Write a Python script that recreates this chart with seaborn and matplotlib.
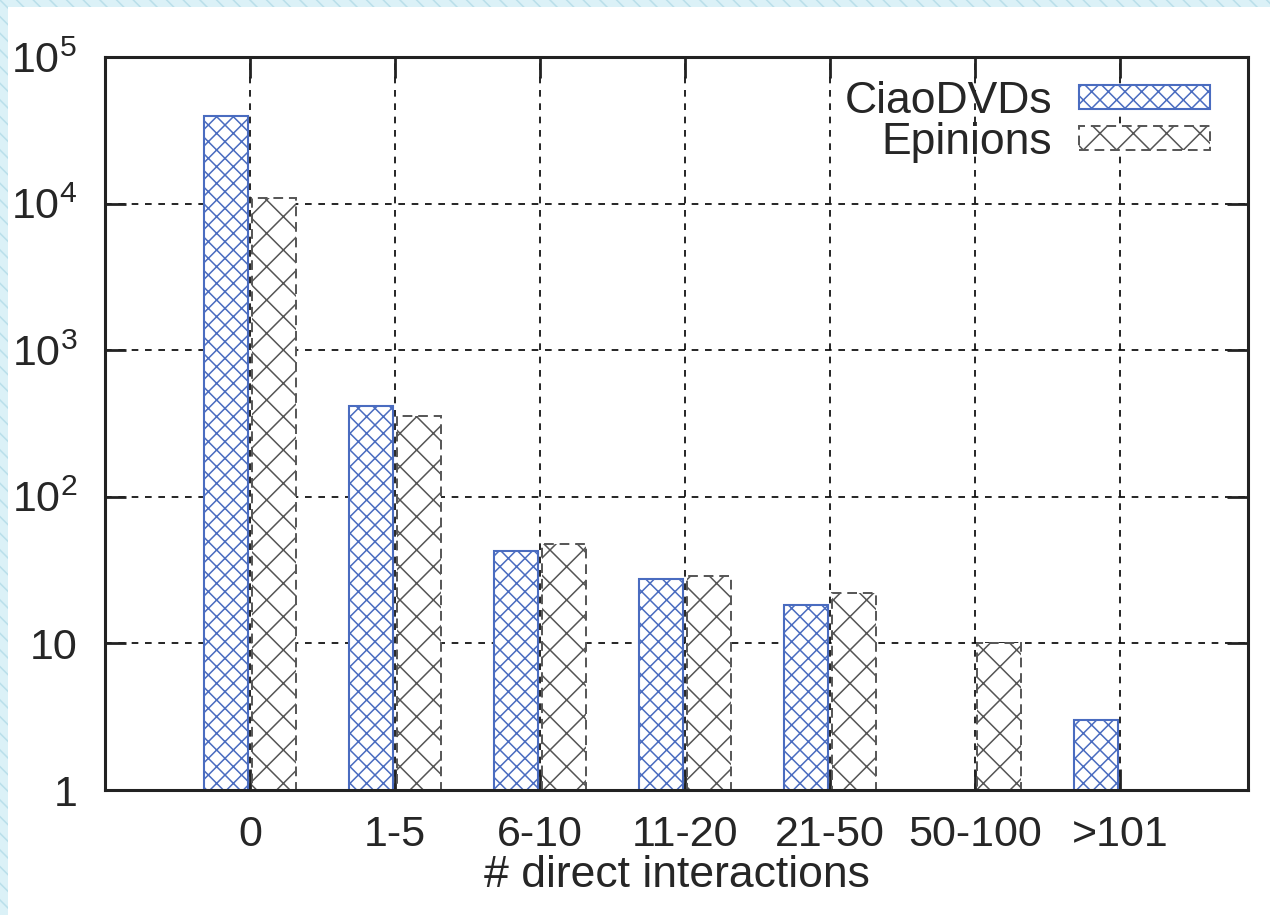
import numpy as np
import pandas as pd
import seaborn as sns
import matplotlib.pyplot as plt
from matplotlib.patches import Rectangle

categories = ["0", "1-5", "6-10", "11-20", "21-50", "50-100", ">101"]
ciao = [39600, 415, 43, 27.5, 18.3, np.nan, 3]
epinions = [10900, 356, 48, 28.8, 22, 10, np.nan]
series = ["CiaoDVDs", "Epinions"]
ytick_vals = [1, 10, 100, 1000, 10000, 100000]
ytick_labels = ["1", "10", "$10^2$", "$10^3$", "$10^4$", "$10^5$"]

df = pd.DataFrame({
    "cat": categories * 2,
    "count": ciao + epinions,
    "series": [series[0]] * len(categories) + [series[1]] * len(categories),
}).dropna()

sns.set_style("white")
plt.rcParams["font.family"] = ["Liberation Sans", "DejaVu Sans"]
plt.rcParams["mathtext.fontset"] = "custom"
plt.rcParams["mathtext.rm"] = "Liberation Sans"
plt.rcParams["mathtext.it"] = "Liberation Sans"
plt.rcParams["hatch.linewidth"] = 1.1

fig = plt.figure(figsize=(12.7, 9.15), dpi=100)
fig.patch.set_facecolor("#dbf1f7")
fig.patch.set_edgecolor("#b9dfea")
fig.patch.set_hatch("\\\\")
fig.patches.append(Rectangle((8 / 1270, 0), 1, 1 - 7 / 915, transform=fig.transFigure,
                             facecolor="white", edgecolor="none", zorder=-5))
ax = fig.add_axes([105 / 1270, 1 - 790 / 915, 1143 / 1270, 733 / 915])
ax.set_zorder(2)

sns.barplot(data=df, x="cat", y="count", hue="series", order=categories,
            hue_order=series, width=0.66, gap=0.08, ax=ax, log_scale=True,
            palette=["white", "white"], legend=True)

blue = "#4a6cc0"
gray = "#555555"


def style_patch(p, name):
    p.set_facecolor("white")
    if name == "CiaoDVDs":
        p.set_hatch("xx")
        p.set_edgecolor(blue)
        p.set_linewidth(1.5)
    else:
        p.set_hatch("x")
        p.set_edgecolor(gray)
        p.set_linestyle((0, (5, 3)))
        p.set_linewidth(1.4)


for bar_container, name in zip(ax.containers, series):
    for p in bar_container.patches:
        style_patch(p, name)
        p.set_zorder(3)

ax.set_yscale("log")
ax.set_ylim(1, 1e5)
ax.set_xlim(-1, 6.88)
ax.set_yticks(ytick_vals)
ax.set_yticklabels(ytick_labels)
ax.yaxis.set_minor_locator(plt.NullLocator())

ax.grid(True, which="major", color="black", linestyle=(0, (4, 4)), linewidth=1.2)
ax.set_axisbelow(True)
for s in ax.spines.values():
    s.set_visible(True)
    s.set_color("#222222")
    s.set_linewidth(2.2)
    s.set_zorder(5)

ax.tick_params(axis="both", which="major", direction="in", length=15, width=2,
               labelsize=31, top=True, right=True, bottom=True, left=True,
               color="#222222")
ax.tick_params(axis="y", pad=20)
ax.tick_params(axis="x", pad=18)

ax.set_xlabel("# direct interactions", fontsize=32, labelpad=0)
ax.set_ylabel("")

handles, labels = ax.get_legend_handles_labels()
leg = ax.legend(handles, labels, loc="upper right", bbox_to_anchor=(0.994, 1.01),
                frameon=False, fontsize=32, markerfirst=False, handlelength=2.95,
                handleheight=0.45, handletextpad=0.6, labelspacing=0.0, borderpad=0.2)
for h, name in zip(leg.legend_handles, series):
    style_patch(h, name)

fig.savefig("out.png", dpi=100, facecolor=fig.get_facecolor())
